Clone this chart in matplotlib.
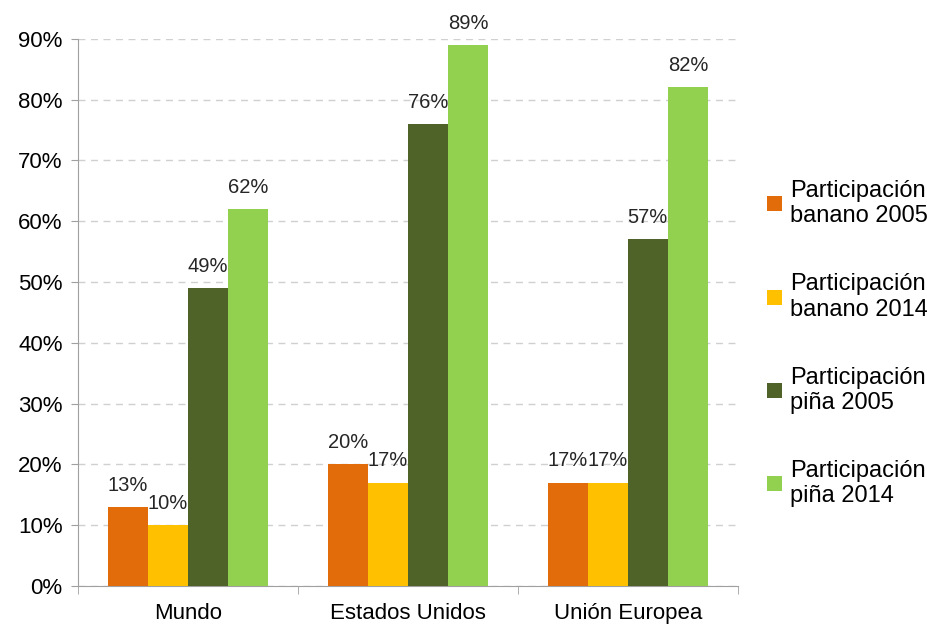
import numpy as np
import matplotlib.pyplot as plt

plt.rcParams['font.family'] = ['Liberation Sans', 'DejaVu Sans']

# data
regions = ['Mundo', 'Estados Unidos', 'Unión Europea']
banano_2005 = [0.13, 0.20, 0.17]
banano_2014 = [0.10, 0.17, 0.17]
pina_2005 = [0.49, 0.76, 0.57]
pina_2014 = [0.62, 0.89, 0.82]
series_labels = ['Participación\nbanano 2005', 'Participación\nbanano 2014',
                 'Participación\npiña 2005', 'Participación\npiña 2014']
colors = ['#E36C0A', '#FFC000', '#4F6228', '#92D050']
y_ticks = np.arange(0, 1.0, 0.1)

fig = plt.figure(figsize=(9.28, 6.26), dpi=100)
ax = fig.add_axes([0.084, 0.064, 0.711, 0.874])

x = np.arange(len(regions))
width = 0.182
all_series = [banano_2005, banano_2014, pina_2005, pina_2014]
for i, (vals, col, lab) in enumerate(zip(all_series, colors, series_labels)):
    pos = x + (i - 1.5) * width
    bars = ax.bar(pos, vals, width=width, color=col, label=lab, zorder=3)
    for b, v in zip(bars, vals):
        ax.text(b.get_x() + b.get_width() / 2, v + 0.02, f'{round(v * 100):d}%',
                ha='center', va='bottom', fontsize=14.5, color='#262626', zorder=4)

ax.set_xlim(-0.5, len(regions) - 0.5)
ax.set_ylim(0, 0.9)
ax.set_yticks(y_ticks)
ax.set_yticklabels([f'{round(t * 100):d}%' for t in y_ticks], fontsize=16)
ax.set_xticks(x)
ax.set_xticklabels(regions, fontsize=16)
ax.tick_params(axis='x', length=0, pad=12)
ax.set_xticks(np.arange(-0.5, len(regions)), minor=True)
ax.tick_params(axis='x', which='minor', length=6, color='#A0A0A0')
ax.tick_params(axis='y', length=5, color='#A0A0A0', pad=6)

ax.yaxis.grid(True, linestyle=(0, (5, 4)), color='#D0D0D0', linewidth=1, zorder=0)
for s in ['top', 'right']:
    ax.spines[s].set_visible(False)
for s in ['left', 'bottom']:
    ax.spines[s].set_color('#A0A0A0')

ax.legend(loc='center left', bbox_to_anchor=(1.045, 0.443), frameon=False,
          fontsize=17, labelspacing=1.95, handlelength=0.6, handleheight=0.6,
          handletextpad=0.35, borderaxespad=0, borderpad=0)

fig.savefig('out.png', dpi=100)
